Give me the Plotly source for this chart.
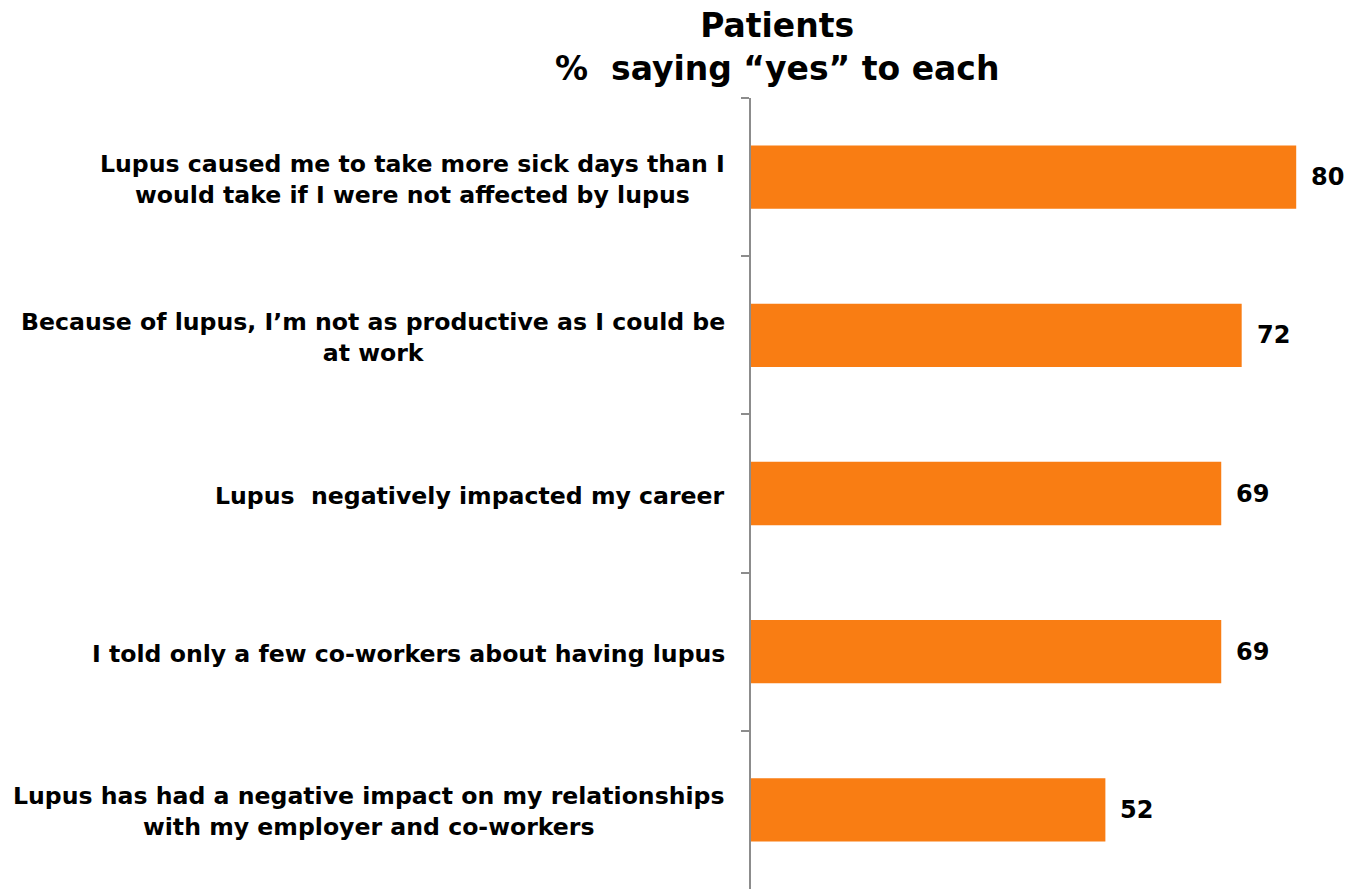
import plotly.graph_objects as go

# Survey statements (top to bottom) and share of patients answering "yes"
statements = [
    "Lupus caused me to take more sick days than I<br>would take if I were not affected by lupus",
    "Because of lupus, I\u2019m not as productive as I could be<br>at work",
    "Lupus  negatively impacted my career",
    "I told only a few co-workers about having lupus",
    "Lupus has had a negative impact on my relationships<br>with my employer and co-workers",
]
pct_yes = [80, 72, 69, 69, 52]
chart_title = "Patients<br>%  saying \u201cyes\u201d to each"

BAR_COLOR = "#F97D13"
AXIS_COLOR = "#8C8C8C"
FONT = "DejaVu Sans"
cats = [f"c{i}" for i in range(len(statements))]

fig = go.Figure(
    go.Bar(
        x=pct_yes,
        y=cats,
        orientation="h",
        marker=dict(color=BAR_COLOR, line=dict(width=0)),
        hoverinfo="skip",
    )
)

# value labels just past the bar ends
for c, v in zip(cats, pct_yes):
    fig.add_annotation(
        x=v, y=c, xref="x", yref="y", text=str(v), showarrow=False,
        xanchor="left", xshift=13,
        font=dict(family=FONT, size=24, color="#000000", weight="bold"),
    )

# statement labels: centred lines, block right-aligned left of the axis
for c, s in zip(cats, statements):
    fig.add_annotation(
        x=0, y=c, xref="paper", yref="y", text=s, showarrow=False,
        xanchor="right", xshift=-24, yshift=-2, align="center",
        font=dict(family=FONT, size=23.6, color="#000000", weight="bold"),
    )

# two-line heading above the chart
fig.add_annotation(
    x=(777 - 751) / (1348 - 751), y=1, xref="paper", yref="paper",
    text=chart_title, showarrow=False, xanchor="center", yanchor="bottom",
    yshift=8,
    font=dict(family=FONT, size=33, color="#000000", weight="bold"),
)

fig.update_layout(
    width=1348,
    height=889,
    margin=dict(l=751, r=0, t=98, b=0, pad=0),
    paper_bgcolor="white",
    plot_bgcolor="white",
    bargap=0.6,
    showlegend=False,
    xaxis=dict(
        range=[0, 87.6], showgrid=False, zeroline=False, showticklabels=False,
        ticks="", showline=False, fixedrange=True,
    ),
    yaxis=dict(
        categoryorder="array", categoryarray=cats, autorange="reversed",
        showticklabels=False, showgrid=False, zeroline=False,
        showline=True, linecolor=AXIS_COLOR, linewidth=2,
        ticks="outside", tickson="boundaries", ticklen=8,
        tickcolor=AXIS_COLOR, tickwidth=2, fixedrange=True,
    ),
)

fig.write_html("out.html")
